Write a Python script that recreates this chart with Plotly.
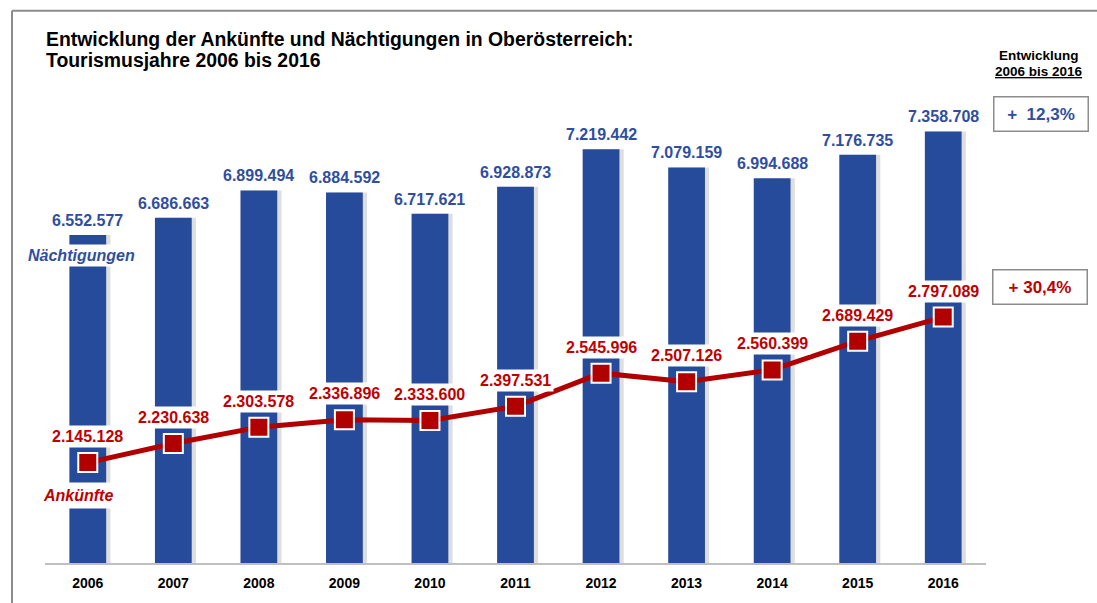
import plotly.graph_objects as go

years = ["2006", "2007", "2008", "2009", "2010", "2011", "2012", "2013", "2014", "2015", "2016"]
naechtigungen = [6552577, 6686663, 6899494, 6884592, 6717621, 6928873, 7219442, 7079159, 6994688, 7176735, 7358708]
ankuenfte = [2145128, 2230638, 2303578, 2336896, 2333600, 2397531, 2545996, 2507126, 2560399, 2689429, 2797089]
title_lines = ["Entwicklung der Ankünfte und Nächtigungen in Oberösterreich:", "Tourismusjahre 2006 bis 2016"]
change_n = "+  12,3%"
change_a = "+ 30,4%"

BLUE = "#274B9B"
BLUE_TXT = "#2F4EA0"
RED = "#B00000"
RED_TXT = "#C00000"
FONT = "Liberation Sans, Arial, sans-serif"

W, H = 1097, 603
ML, MR, MT, MB = 45, 111, 100, 36
PW = W - ML - MR
PH = H - MT - MB

def px2x(px):
    return (px - ML) / PW

def py2y(py):
    return (H - MB - py) / PH

def de(v):
    return f"{v:,}".replace(",", ".")

xi = list(range(len(years)))
BW = 0.43

fig = go.Figure()
# soft shadow behind the bars
fig.add_trace(go.Bar(x=xi, y=naechtigungen, marker=dict(color="rgba(0,0,0,0.13)", line=dict(width=0)),
                     width=BW + 0.02, offset=-BW / 2 + 0.03, hoverinfo="skip", yaxis="y"))
fig.add_trace(go.Bar(x=xi, y=naechtigungen, marker=dict(color=BLUE, line=dict(width=0)),
                     width=BW, offset=-BW / 2, name="Nächtigungen", yaxis="y"))
fig.add_trace(go.Scatter(x=xi, y=ankuenfte, mode="lines+markers", yaxis="y2",
                         line=dict(color=RED, width=5),
                         marker=dict(symbol="square", size=19, color=RED,
                                     line=dict(color="white", width=2)),
                         name="Ankünfte"))

ann = []
for i, v in zip(xi, naechtigungen):
    ann.append(dict(x=i, y=v, xref="x", yref="y", text=f"<b>{de(v)}</b>", showarrow=False,
                    xanchor="center", yanchor="bottom", yshift=4,
                    font=dict(family=FONT, size=16, color=BLUE_TXT)))
for i, v in zip(xi, ankuenfte):
    ann.append(dict(x=i, y=v, xref="x", yref="y2", text=f"<b>{de(v)}</b>", showarrow=False,
                    xanchor="center", yanchor="middle", yshift=26, bgcolor="white", borderpad=2,
                    font=dict(family=FONT, size=16, color=RED_TXT)))

ann.append(dict(x=px2x(81), xref="paper", y=py2y(257), yref="paper", text="<b><i>Nächtigungen</i></b>",
                showarrow=False, bgcolor="white", borderpad=2, xanchor="center", yanchor="middle",
                font=dict(family=FONT, size=16, color=BLUE_TXT)))
ann.append(dict(x=px2x(77.5), xref="paper", y=py2y(499), yref="paper", text="<b><i>Ankünfte</i></b>",
                showarrow=False, bgcolor="white", borderpad=4, xanchor="center", yanchor="middle",
                font=dict(family=FONT, size=16, color=RED_TXT)))

for ln, py in zip(title_lines, [38, 60]):
    ann.append(dict(x=px2x(44), xref="paper", y=py2y(py), yref="paper", xanchor="left", yanchor="middle",
                    align="left", showarrow=False, text=f"<b>{ln}</b>",
                    font=dict(family=FONT, size=19.4, color="black")))
ann.append(dict(x=px2x(1039), xref="paper", y=py2y(55), yref="paper", showarrow=False,
                xanchor="center", yanchor="middle",
                text="<b>Entwicklung</b>", font=dict(family=FONT, size=13.5, color="black")))
ann.append(dict(x=px2x(1039), xref="paper", y=py2y(71.5), yref="paper", showarrow=False,
                xanchor="center", yanchor="middle",
                text="<b><u>2006 bis 2016</u></b>", font=dict(family=FONT, size=13.5, color="black")))
ann.append(dict(x=px2x(1040.5), xref="paper", y=py2y(114), yref="paper", showarrow=False,
                xanchor="center", yanchor="middle",
                text=f"<b>{change_n}</b>", width=91, height=31, borderpad=1,
                bordercolor="#8C8C8C", borderwidth=1.5, bgcolor="white",
                font=dict(family=FONT, size=17, color=BLUE_TXT)))
ann.append(dict(x=px2x(1040), xref="paper", y=py2y(289), yref="paper", showarrow=False,
                xanchor="center", yanchor="middle",
                text=f"<b>{change_a}</b>", width=91, height=31, borderpad=1,
                bordercolor="#8C8C8C", borderwidth=1.5, bgcolor="white",
                font=dict(family=FONT, size=17, color=RED_TXT)))

shapes = [
    dict(type="line", xref="paper", yref="paper", x0=px2x(12), x1=px2x(12), y0=py2y(10), y1=py2y(610),
         line=dict(color="#8C8C8C", width=2)),
    dict(type="line", xref="paper", yref="paper", x0=px2x(12), x1=px2x(1110), y0=py2y(10), y1=py2y(10),
         line=dict(color="#8C8C8C", width=2)),
]

fig.update_layout(
    width=W, height=H, margin=dict(l=ML, r=MR, t=MT, b=MB),
    paper_bgcolor="white", plot_bgcolor="white", showlegend=False,
    barmode="overlay",
    annotations=ann, shapes=shapes,
    xaxis=dict(range=[-0.5, len(years) - 0.5], tickvals=xi, ticktext=[f"<b>{y}</b>" for y in years],
               tickfont=dict(family=FONT, size=14, color="black"), showline=True,
               linecolor="#BFBFBF", linewidth=1.5, ticks="", showgrid=False, zeroline=False,
               ticklabelstandoff=6),
    yaxis=dict(range=[4000000, 7603700], visible=False, showgrid=False),
    yaxis2=dict(range=[1695000, 3770300], overlaying="y", visible=False, showgrid=False),
)

fig.write_html("out.html", config={"displayModeBar": False},
               post_script="document.body.style.margin='0';")
